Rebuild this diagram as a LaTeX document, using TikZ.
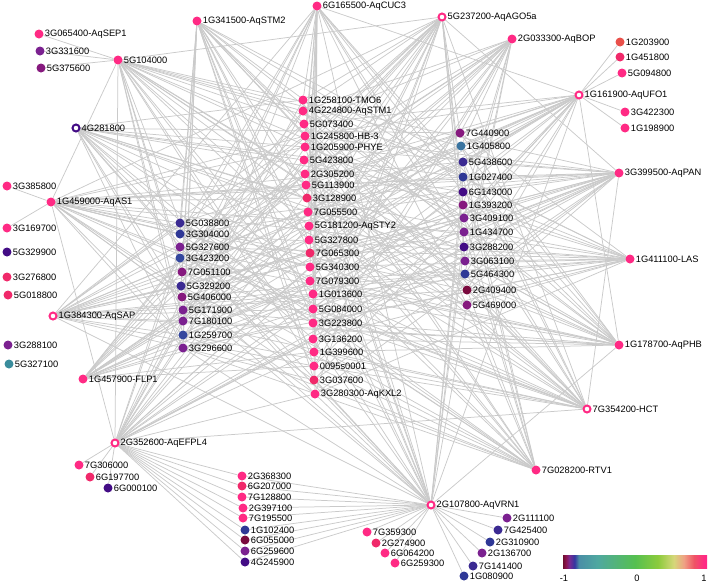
\documentclass[tikz,border=0pt]{standalone}
\usepackage{fontspec}
\setmainfont{Liberation Sans}
\usetikzlibrary{positioning}
\pgfdeclarelayer{bg}
\pgfsetlayers{bg,main}

\definecolor{pink}{HTML}{FF2A84}
\definecolor{pinkb}{HTML}{F0296A}
\definecolor{redo}{HTML}{E9504A}
\definecolor{purple}{HTML}{7B2190}
\definecolor{mag}{HTML}{86197E}
\definecolor{indigo}{HTML}{430C85}
\definecolor{bpur}{HTML}{3B2A92}
\definecolor{blue}{HTML}{2F3896}
\definecolor{blueL}{HTML}{34479E}
\definecolor{teal}{HTML}{3A8C9C}
\definecolor{tealb}{HTML}{3A74A0}
\definecolor{maroon}{HTML}{7A0A3E}
\definecolor{edgegray}{HTML}{CACACA}

\definecolor{cb0}{HTML}{6E0F2E}
\definecolor{cb1}{HTML}{8C1450}
\definecolor{cb2}{HTML}{7B2A92}
\definecolor{cb3}{HTML}{3436A0}
\definecolor{cb4}{HTML}{4A8EA6}
\definecolor{cb5}{HTML}{4FA8A0}
\definecolor{cb6}{HTML}{55C050}
\definecolor{cb7}{HTML}{8CCB3C}
\definecolor{cb8}{HTML}{D6D77A}
\definecolor{cb9}{HTML}{EFA184}
\definecolor{cb10}{HTML}{EF5465}
\definecolor{cb11}{HTML}{FF2A84}
\pgfdeclarehorizontalshading{cbarshade}{100bp}{color(0bp)=(cb0); color(25bp)=(cb0);
  color(26bp)=(cb1); color(27.2bp)=(cb2); color(29bp)=(cb3); color(30.5bp)=(cb4);
  color(37bp)=(cb5); color(50bp)=(cb6); color(58bp)=(cb7); color(63.5bp)=(cb8);
  color(67bp)=(cb9); color(70.5bp)=(cb10); color(74bp)=(cb11); color(100bp)=(cb11)}

\newcommand\genefont{\fontsize{9.3}{11}\selectfont}
\def\hubgenes{5G104000,1G341500,6G165500,5G237200,2G033300,1G161900,3G399500,1G411100,1G178700,7G354200,7G028200,2G107800,2G352600,1G457900,1G384300,1G459000,4G281800}
\def\innergenes{5G038800,3G304000,5G327600,3G423200,7G051100,5G329200,5G406000,5G171900,7G180100,1G259700,3G296600,1G258100,4G224800,5G073400,1G245800,1G205900,5G423800,2G305200,5G113900,3G128900,7G055500,5G181200,5G327800,7G065300,5G340300,7G079300,1G013600,5G084000,3G223800,3G136200,1G399600,0095s0001,3G037600,3G280300,7G440900,1G405800,5G438600,1G027400,6G143000,1G393200,3G409100,1G434700,3G288200,3G063100,5G464300,2G409400,5G469000}

\begin{document}
\begin{tikzpicture}[x=1pt,y=-1pt,
  dot/.style={circle,fill=#1,inner sep=0pt,minimum size=9pt},
  ring/.style={circle,draw=#1,fill=white,line width=2pt,inner sep=0pt,minimum size=7pt},
  lbl/.style={inner sep=1pt,font=\genefont},
  edge/.style={draw=edgegray,line width=0.75pt}]
  \useasboundingbox (0,0) rectangle (708,584);

  % hubs on the ring
  \node[dot=pink,label={[lbl]right:5G104000}] (5G104000) at (118,60) {};
  \node[dot=pink,label={[lbl]right:1G341500-AqSTM2}] (1G341500) at (197,21) {};
  \node[dot=pink,label={[lbl]right:6G165500-AqCUC3}] (6G165500) at (317,6) {};
  \node[ring=pink,label={[lbl]right:5G237200-AqAGO5a}] (5G237200) at (442,17) {};
  \node[dot=pink,label={[lbl]right:2G033300-AqBOP}] (2G033300) at (512,39) {};
  \node[ring=pink,label={[lbl]right:1G161900-AqUFO1}] (1G161900) at (579,95) {};
  \node[dot=pink,label={[lbl]right:3G399500-AqPAN}] (3G399500) at (619,173) {};
  \node[dot=pink,label={[lbl]right:1G411100-LAS}] (1G411100) at (630,259) {};
  \node[dot=pink,label={[lbl]right:1G178700-AqPHB}] (1G178700) at (619,345) {};
  \node[ring=pink,label={[lbl]right:7G354200-HCT}] (7G354200) at (587,409) {};
  \node[dot=pink,label={[lbl]right:7G028200-RTV1}] (7G028200) at (536,470) {};
  \node[ring=pink,label={[lbl]right:2G107800-AqVRN1}] (2G107800) at (431,505) {};
  \node[ring=pink,label={[lbl]right:2G352600-AqEFPL4}] (2G352600) at (115,443) {};
  \node[dot=pink,label={[lbl]right:1G457900-FLP1}] (1G457900) at (83,379) {};
  \node[ring=pink,label={[lbl]right:1G384300-AqSAP}] (1G384300) at (53,316) {};
  \node[dot=pink,label={[lbl]right:1G459000-AqAS1}] (1G459000) at (51,202) {};
  \node[ring=indigo,label={[lbl]right:4G281800}] (4G281800) at (76,128) {};

  % inner columns
  \foreach \n/\x/\y/\c in {5G038800/180/223/bpur,3G304000/180/234/blue,5G327600/180/247/purple,
      3G423200/180/258/blueL,7G051100/182/272/mag,5G329200/181/286/bpur,5G406000/182/297/mag,
      5G171900/183/310/purple,7G180100/183/321/purple,1G259700/183/335/blueL,3G296600/183/348/purple}
    \node[dot=\c,label={[lbl]right:\n}] (\n) at (\x,\y) {};
  \foreach \n/\x/\y/\c/\t in {1G258100/303/100/pink/1G258100-TMO6,4G224800/303/111/pink/4G224800-AqSTM1,
      5G073400/304/124/pink/5G073400,1G245800/305/136/pink/1G245800-HB-3,1G205900/305/147/pink/1G205900-PHYE,
      5G423800/304/160/pink/5G423800,2G305200/305/174/pink/2G305200,5G113900/306/185/pink/5G113900,
      3G128900/307/198/pinkb/3G128900,7G055500/308/212/pink/7G055500,5G181200/309/226/pink/5G181200-AqSTY2,
      5G327800/309/240/pink/5G327800,7G065300/310/253/pinkb/7G065300,5G340300/310/267/pink/5G340300,
      7G079300/310/281/pink/7G079300,1G013600/313/294/pink/1G013600,5G084000/313/309/pink/5G084000,
      3G223800/313/323/pink/3G223800,3G136200/313/339/pink/3G136200,1G399600/314/352/pink/1G399600,
      0095s0001/314/366/pink/0095s0001,3G037600/314/380/pinkb/3G037600,3G280300/315/394/pink/3G280300-AqKXL2}
    \node[dot=\c,label={[lbl]right:\t}] (\n) at (\x,\y) {};
  \foreach \n/\x/\y/\c in {7G440900/460/133/mag,1G405800/461/146/tealb,5G438600/463/162/bpur,
      1G027400/463/177/blue,6G143000/463/192/indigo,1G393200/463/205/mag,3G409100/464/218/purple,
      1G434700/464/232/purple,3G288200/464/247/indigo,3G063100/465/261/purple,5G464300/465/274/blue,
      2G409400/467/290/maroon,5G469000/467/305/mag}
    \node[dot=\c,label={[lbl]right:\n}] (\n) at (\x,\y) {};
  \foreach \n/\x/\y/\c in {2G368300/242/476/pink,6G207000/242/486/pinkb,7G128800/242/497/pink,
      2G397100/243/508/pink,7G195500/243/518/pink,1G102400/245/530/blue,6G055000/245/540/maroon,
      6G259600/245/551/purple,4G245900/245/562/indigo}
    \node[dot=\c,label={[lbl]right:\n}] (\n) at (\x,\y) {};

  % leaves
  \node[dot=pink,label={[lbl]right:3G065400-AqSEP1}] (3G065400) at (39,34) {};
  \foreach \n/\x/\y/\c in {3G331600/40/51/purple,5G375600/41/68/mag,
      1G203900/620/42/redo,1G451800/620/57/pinkb,5G094800/622/73/pink,3G422300/625/112/pink,1G198900/625/128/pink,
      3G385800/7/186/pink,3G169700/7/228/pink,5G329900/7/252/indigo,3G276800/7/277/pinkb,5G018800/8/295/pinkb,
      3G288100/8/345/purple,5G327100/9/364/teal,
      7G306000/79/465/pink,6G197700/90/477/pinkb,6G000100/108/488/indigo,
      7G359300/367/532/pink,2G274900/376/543/pinkb,6G064200/385/553/pink,6G259300/395/563/pink,
      2G111100/507/518/purple,7G425400/498/530/bpur,2G310900/490/542/blue,2G136700/482/553/purple,
      7G141400/473/566/bpur,1G080900/464/576/blue}
    \node[dot=\c,label={[lbl]right:\n}] (\n) at (\x,\y) {};

  % connectors
  \begin{pgfonlayer}{bg}
    \foreach \h [count=\j] in \hubgenes {
      \foreach \g [count=\i] in \innergenes {
        \pgfmathtruncatemacro\ok{mod(\i*7+\j*11,9)<4}
        \ifnum\ok=1 \draw[edge] (\h) -- (\g); \fi
      }
      \foreach \k [count=\i] in \hubgenes {
        \pgfmathtruncatemacro\ok{(\i>\j)&&(mod(\i*\j+\i+\j,3)==0)}
        \ifnum\ok=1 \draw[edge] (\h) -- (\k); \fi
      }
    }
    \foreach \g in {3G065400,3G331600,5G375600} \draw[edge] (5G104000) -- (\g);
    \foreach \g in {1G203900,1G451800,5G094800,3G422300,1G198900} \draw[edge] (1G161900) -- (\g);
    \foreach \g in {3G385800,3G169700} \draw[edge] (1G459000) -- (\g);
    \foreach \g in {7G306000,6G197700,6G000100} \draw[edge] (2G352600) -- (\g);
    \foreach \g in {7G359300,2G274900,6G064200,6G259300,2G111100,7G425400,2G310900,2G136700,7G141400,1G080900}
      \draw[edge] (2G107800) -- (\g);
    \foreach \g in {2G368300,6G207000,7G128800,2G397100,7G195500,1G102400,6G055000,6G259600,4G245900}
      \draw[edge] (2G352600) -- (\g) -- (2G107800);
  \end{pgfonlayer}

  % colour scale
  \node[draw=none,shading=cbarshade,minimum width=144pt,minimum height=13pt,inner sep=0pt] (cbar) at (635,561.5) {};
  \node[lbl] (cbm) at (564,578) {-1};
  \node[lbl] (cbz) at (637,578) {0};
  \node[lbl] (cbp) at (704,578) {1};
\end{tikzpicture}
\end{document}
